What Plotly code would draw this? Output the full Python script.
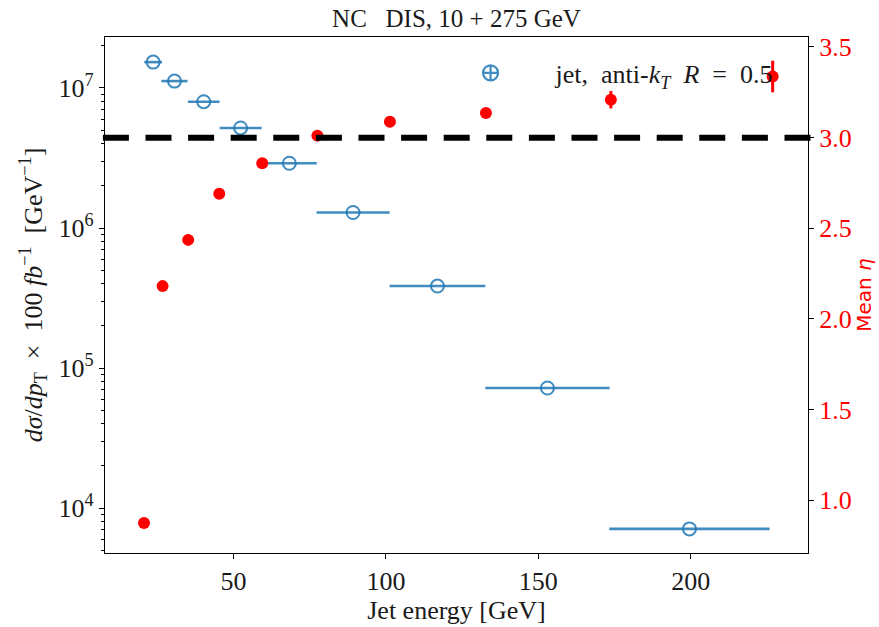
import plotly.graph_objects as go

# ---- data ----
jet_energy = [23.6, 30.6, 40.2, 52.3, 68.3, 89.2, 116.9, 153.0, 199.6]
jet_energy_halfwidth = [2.9, 4.3, 5.2, 6.9, 9.0, 12.0, 15.7, 20.4, 26.3]
dsigma_dpt = [1.53e7, 1.12e7, 7.98e6, 5.18e6, 2.90e6, 1.29e6, 3.85e5, 7.2e4, 7.1e3]

eta_energy = [20.6, 26.7, 35.1, 45.3, 59.4, 77.5, 101.3, 132.8, 173.8, 226.9]
mean_eta = [0.874, 2.181, 2.436, 2.690, 2.859, 3.011, 3.088, 3.136, 3.209, 3.337]
mean_eta_err = [0, 0, 0, 0, 0, 0, 0.005, 0.012, 0.048, 0.087]
eta_reference = 3.0

x_ticks = [50, 100, 150, 200]
left_ticks = [1e4, 1e5, 1e6, 1e7]
left_tick_text = ["10<sup>4</sup>", "10<sup>5</sup>", "10<sup>6</sup>", "10<sup>7</sup>"]
right_ticks = [1.0, 1.5, 2.0, 2.5, 3.0, 3.5]
right_tick_text = ["1.0", "1.5", "2.0", "2.5", "3.0", "3.5"]
log_minor_ticks = [m * 10 ** e for e in range(3, 8) for m in range(2, 10)]

NB = "\u00a0"
title_text = "NC" + NB * 3 + "DIS, 10 + 275 GeV"
legend_text = ("jet," + NB + " anti-<i>k<sub>T</sub></i>" + NB + " <i>R</i>" + NB * 2
               + "=" + NB * 2 + "0.5")
y_title = ("<i>dσ</i>/<i>dp</i><sub>T</sub>" + NB * 2 + "×" + NB * 2 + "100" + NB
           + "<i>fb</i><sup>−1</sup>" + NB * 2 + "[GeV<sup>−1</sup>]")
y2_title = "Mean <i>η</i>"
x_title = "Jet energy [GeV]"

BLUE = "rgba(31,119,180,0.85)"
RED = "#ff0000"
SERIF = "Liberation Serif"
TXT = "#1a1a1a"
FS = 26

W, H = 879, 627
L, R, T, B = 105, 71, 37, 74

fig = go.Figure()

fig.add_trace(go.Scatter(
    x=jet_energy, y=dsigma_dpt, mode="markers",
    marker=dict(symbol="circle-open", size=13, color=BLUE, line=dict(width=2, color=BLUE)),
    error_x=dict(type="data", array=jet_energy_halfwidth, symmetric=True,
                 thickness=2.6, width=0, color=BLUE),
    showlegend=False, yaxis="y", xaxis="x",
))

# legend entry (symbol only)
fig.add_trace(go.Scatter(
    x=[None], y=[None], mode="markers", name=legend_text,
    marker=dict(symbol="circle-cross-open", size=15, color=BLUE, line=dict(width=2.2, color=BLUE)),
    showlegend=True, yaxis="y", xaxis="x",
))

fig.add_trace(go.Scatter(
    x=eta_energy, y=mean_eta, mode="markers",
    marker=dict(symbol="circle", size=12, color=RED),
    error_y=dict(type="data", array=mean_eta_err, symmetric=True,
                 thickness=3, width=0, color=RED),
    showlegend=False, yaxis="y2", xaxis="x",
))

fig.add_shape(type="line", xref="paper", x0=-0.003, x1=1.004, yref="y2",
              y0=eta_reference, y1=eta_reference,
              line=dict(color="black", width=6, dash="26px,16.6px"), layer="above")

pw = W - L - R
ph = H - T - B

fig.update_layout(
    width=W, height=H,
    margin=dict(l=L, r=R, t=T, b=B),
    paper_bgcolor="white", plot_bgcolor="white",
    font=dict(family=SERIF, size=FS, color=TXT),
    title=dict(text=title_text, x=(L + pw / 2) / W, xanchor="center",
               y=1 - 18 / H, yanchor="middle",
               font=dict(family=SERIF, size=25, color=TXT)),
    xaxis=dict(range=[7.8, 238.5], tickvals=x_ticks, ticks="outside", ticklen=5,
               tickcolor="black", showline=True, linecolor="black", linewidth=1.2,
               mirror=True, showgrid=False, zeroline=False, automargin=False,
               tickfont=dict(family=SERIF, size=FS, color=TXT),
               title=dict(text=x_title, standoff=0,
                          font=dict(family=SERIF, size=FS, color=TXT))),
    yaxis=dict(type="log", range=[3.679, 7.364],
               tickmode="array", tickvals=left_ticks, ticktext=left_tick_text,
               ticks="outside", ticklen=5, tickcolor="black",
               minor=dict(tickmode="array", tickvals=log_minor_ticks,
                          ticks="outside", ticklen=2.8, tickcolor="black", showgrid=False),
               showline=True, linecolor="black", linewidth=1.2, mirror=True,
               showgrid=False, zeroline=False, automargin=False,
               tickfont=dict(family=SERIF, size=FS, color=TXT),
               title=dict(text=y_title, standoff=8,
                          font=dict(family=SERIF, size=FS, color=TXT))),
    yaxis2=dict(overlaying="y", side="right", range=[0.709, 3.555],
                tickvals=right_ticks, ticktext=right_tick_text,
                ticks="outside", ticklen=5, tickcolor="black",
                showline=True, linecolor="black", linewidth=1.2,
                showgrid=False, zeroline=False, automargin=False,
                tickfont=dict(family=SERIF, size=FS, color=RED),
                title=dict(text=y2_title, standoff=2,
                           font=dict(family="DejaVu Sans", size=20, color=RED))),
    legend=dict(x=0.456, y=(ph - 36) / ph, xanchor="left", yanchor="middle",
                bgcolor="rgba(0,0,0,0)", borderwidth=0,
                font=dict(family=SERIF, size=FS, color=TXT),
                itemwidth=120),
)

fig.write_html("out.html", config={"displayModeBar": False},
               post_script="document.body.style.margin='0px';")
